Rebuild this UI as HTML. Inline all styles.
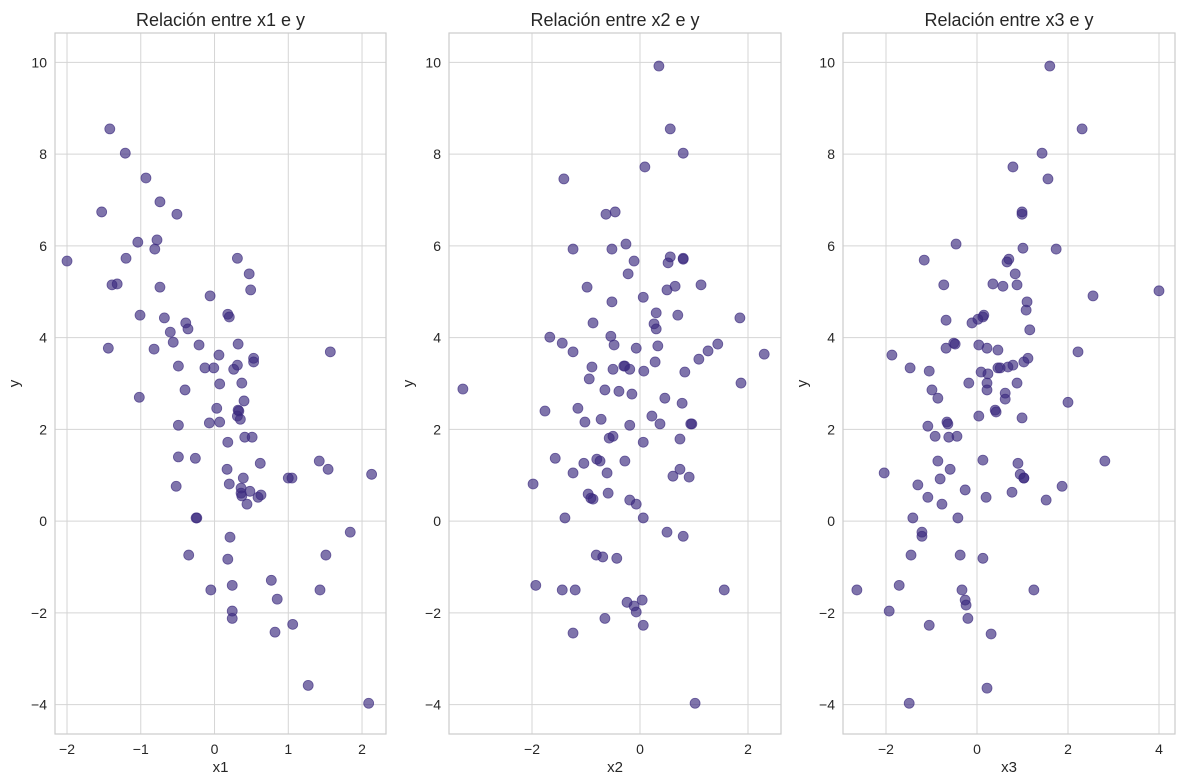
<!DOCTYPE html>
<html><head><meta charset="utf-8"><style>
body{margin:0;background:#fff;}
svg{display:block;font-family:"Liberation Sans",sans-serif;}
</style></head><body>
<svg id="chart" width="1184" height="784" viewBox="0 0 1184 784" xmlns="http://www.w3.org/2000/svg"></svg>
<script>
const yVals=[5.67,6.74,8.55,8.02,7.48,6.08,2.70,5.15,5.17,5.73,3.77,4.49,5.93,6.13,6.96,5.10,3.75,4.43,4.12,3.90,6.69,3.38,2.09,1.40,0.76,4.32,4.19,2.86,-0.74,1.37,0.07,0.07,3.84,3.34,4.91,2.14,-1.50,3.34,2.46,3.62,2.16,2.99,1.13,4.51,4.45,1.72,0.81,-0.83,-0.35,-1.40,-1.96,3.31,-2.12,2.29,3.40,3.86,5.73,2.42,2.40,2.22,0.72,0.61,0.55,3.01,0.94,2.62,1.83,0.37,5.39,0.65,5.04,1.83,3.55,3.47,0.52,1.26,-1.29,0.57,-2.42,-1.70,0.94,0.94,-2.25,-3.58,1.31,-1.50,1.13,-0.74,3.69,-0.24,1.02,-3.97];
const x1Vals=[-2.0,-1.53,-1.42,-1.21,-0.93,-1.04,-1.02,-1.39,-1.32,-1.20,-1.44,-1.01,-0.81,-0.78,-0.74,-0.74,-0.82,-0.68,-0.60,-0.56,-0.51,-0.49,-0.49,-0.49,-0.52,-0.39,-0.36,-0.40,-0.35,-0.26,-0.25,-0.24,-0.21,-0.13,-0.06,-0.07,-0.05,-0.01,0.03,0.06,0.07,0.07,0.17,0.18,0.20,0.18,0.20,0.18,0.21,0.24,0.24,0.26,0.24,0.31,0.31,0.32,0.31,0.32,0.33,0.35,0.36,0.36,0.37,0.37,0.39,0.40,0.41,0.44,0.47,0.48,0.49,0.51,0.53,0.53,0.59,0.62,0.77,0.63,0.82,0.85,1.0,1.05,1.06,1.27,1.42,1.43,1.54,1.51,1.57,1.84,2.13,2.09];
const x2y=[2.88,0.81,-1.40,2.40,4.01,1.37,3.88,0.07,-1.50,7.46,5.93,3.69,1.05,-1.50,-2.44,2.46,5.10,1.26,2.16,3.10,0.59,0.50,0.48,3.36,4.32,-0.74,1.35,1.31,2.22,2.86,-0.78,-2.12,6.69,1.05,0.61,1.81,4.03,4.78,5.93,3.31,1.85,3.84,6.74,-0.81,2.83,3.38,3.38,1.31,6.04,-1.77,5.39,2.09,0.46,3.31,2.77,-1.85,5.67,0.37,-1.98,3.77,-1.72,4.88,0.07,1.72,-2.27,3.27,7.72,2.29,4.30,3.47,4.54,9.92,4.19,3.82,2.12,2.68,-0.24,5.04,5.63,5.76,8.55,0.98,5.12,4.49,1.79,1.13,-0.33,2.57,5.71,8.02,5.73,3.25,0.96,2.12,2.12,-3.97,3.53,5.15,3.71,3.86,-1.50,4.43,3.01,3.64];
const x2Vals=[-3.28,-1.98,-1.93,-1.76,-1.67,-1.57,-1.44,-1.39,-1.44,-1.41,-1.24,-1.24,-1.24,-1.20,-1.24,-1.15,-0.98,-1.04,-1.02,-0.94,-0.96,-0.91,-0.87,-0.89,-0.87,-0.81,-0.80,-0.74,-0.72,-0.65,-0.69,-0.65,-0.63,-0.61,-0.59,-0.57,-0.54,-0.52,-0.52,-0.50,-0.50,-0.48,-0.46,-0.43,-0.39,-0.30,-0.28,-0.28,-0.26,-0.24,-0.22,-0.19,-0.19,-0.19,-0.15,-0.11,-0.11,-0.07,-0.07,-0.07,0.04,0.06,0.06,0.06,0.06,0.07,0.09,0.22,0.26,0.28,0.30,0.35,0.30,0.33,0.37,0.46,0.50,0.50,0.52,0.56,0.56,0.61,0.65,0.70,0.74,0.74,0.80,0.78,0.80,0.80,0.80,0.83,0.91,0.94,0.96,1.02,1.09,1.13,1.26,1.44,1.56,1.85,1.87,2.30];
const x3y=[-1.50,1.05,-1.96,3.62,-1.40,-3.97,-0.74,0.07,3.34,0.79,-0.33,-0.24,5.69,2.07,-2.27,3.27,0.52,2.86,1.85,1.31,2.68,0.92,0.37,5.15,3.77,4.38,2.16,2.12,1.83,1.13,3.88,3.86,6.04,1.85,0.07,-0.74,-1.50,0.68,-1.72,-1.83,-2.12,3.01,4.32,4.40,3.84,2.29,3.25,1.33,-0.81,4.45,4.49,0.52,-3.64,3.77,2.86,3.01,3.21,-2.46,5.17,2.42,2.38,3.34,3.73,3.34,5.12,2.66,2.79,5.65,3.36,5.71,0.63,7.72,3.40,5.39,3.01,5.15,1.26,1.02,6.74,6.69,0.94,0.94,2.25,5.95,3.47,4.60,3.55,4.78,4.17,-1.50,0.46,8.02,7.46,9.92,5.93,0.76,2.59,3.69,8.55,4.91,1.31,5.02];
const x3Vals=[-2.64,-2.04,-1.93,-1.87,-1.71,-1.49,-1.45,-1.41,-1.47,-1.30,-1.21,-1.21,-1.16,-1.08,-1.05,-1.05,-1.08,-0.99,-0.92,-0.86,-0.86,-0.81,-0.77,-0.73,-0.68,-0.68,-0.66,-0.64,-0.62,-0.59,-0.51,-0.48,-0.46,-0.44,-0.42,-0.37,-0.33,-0.26,-0.26,-0.24,-0.20,-0.18,-0.11,0.02,0.04,0.04,0.09,0.13,0.13,0.13,0.15,0.20,0.22,0.22,0.22,0.22,0.24,0.31,0.35,0.40,0.42,0.46,0.46,0.51,0.57,0.62,0.62,0.66,0.68,0.70,0.77,0.79,0.79,0.84,0.88,0.88,0.90,0.95,0.99,0.99,1.03,1.03,0.99,1.01,1.03,1.08,1.12,1.10,1.16,1.25,1.52,1.43,1.56,1.60,1.74,1.87,2.0,2.22,2.31,2.55,2.81,4.0];
const yTicks=[-4,-2,0,2,4,6,8,10];
const x1Ticks=[-2,-1,0,1,2];
const x2Ticks=[-2,0,2];
const x3Ticks=[-2,0,2,4];
const titles=["Relación entre x1 e y","Relación entre x2 e y","Relación entre x3 e y"];
const xLabels=["x1","x2","x3"];

const NS="http://www.w3.org/2000/svg";
const svg=document.getElementById('chart');
function mk(t,a,p){const e=document.createElementNS(NS,t);for(const k in a)e.setAttribute(k,a[k]);(p||svg).appendChild(e);return e;}
const panels=[
 {l:55,r:386,xmin:-2.163,xmax:2.325,xs:x1Vals,ys:yVals,ticks:x1Ticks},
 {l:449,r:781,xmin:-3.537,xmax:2.611,xs:x2Vals,ys:x2y,ticks:x2Ticks},
 {l:843,r:1175,xmin:-2.945,xmax:4.352,xs:x3Vals,ys:x3y,ticks:x3Ticks}];
const yTop=33,yBot=734,ymin=-4.64,ymax=10.64;
function yS(v){return yBot-(v-ymin)/(ymax-ymin)*(yBot-yTop);}
panels.forEach((p,i)=>{
 const g=mk('g',{});
 
 
 const xS=v=>p.l+(v-p.xmin)/(p.xmax-p.xmin)*(p.r-p.l);
 yTicks.forEach(t=>{
  const ln=mk('line',{x1:p.l,x2:p.r,y1:yS(t),y2:yS(t),stroke:'#d5d5d5','stroke-width':1},g);
  
  
  const tx=mk('text',{x:p.l-8,y:yS(t)+5,'text-anchor':'end','font-size':14,fill:'#262626'},g);
  tx.textContent=(t<0?'\u2212'+(-t):t);
  
  
 });
 p.ticks.forEach(t=>{
  const ln=mk('line',{x1:xS(t),x2:xS(t),y1:yTop,y2:yBot,stroke:'#d5d5d5','stroke-width':1},g);
  
  
  const tx=mk('text',{x:xS(t),y:yBot+20,'text-anchor':'middle','font-size':14,fill:'#262626'},g);
  tx.textContent=(t<0?'\u2212'+(-t):t);
  
  
 });
 const fr=mk('rect',{x:p.l,y:yTop,width:p.r-p.l,height:yBot-yTop,fill:'none',stroke:'#cccccc','stroke-width':1.2},g);
 
 
 p.xs.forEach((xv,j)=>{
  if(p.ys[j]===undefined)return;
  const c=mk('circle',{cx:xS(xv),cy:yS(p.ys[j]),r:5,fill:'#3b2a7e','fill-opacity':0.65,stroke:'#3b2a7e','stroke-opacity':0.7,'stroke-width':0.8},g);
  
  
 });
 const ti=mk('text',{x:(p.l+p.r)/2,y:26,'text-anchor':'middle','font-size':18,fill:'#262626'},g);
 ti.textContent=titles[i];
 
 
 const xl=mk('text',{x:(p.l+p.r)/2,y:772,'text-anchor':'middle','font-size':15,fill:'#262626'},g);
 xl.textContent=xLabels[i];
 
 
 const yl=mk('text',{x:0,y:0,'text-anchor':'middle','font-size':15,fill:'#262626',transform:`translate(${p.l-36},${(yTop+yBot)/2}) rotate(-90)`},g);
 yl.textContent='y';
 
 
});
</script>
</body></html>
